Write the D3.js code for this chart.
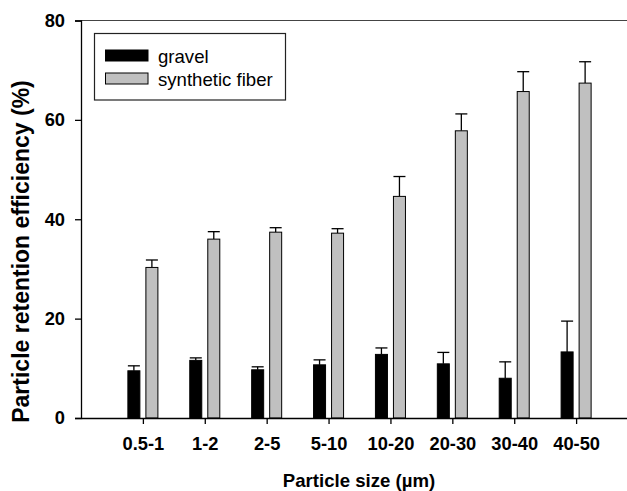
<!DOCTYPE html>
<html>
<head>
<meta charset="utf-8">
<script src="https://cdn.jsdelivr.net/npm/d3@7"></script>
<style>
  html, body { margin: 0; padding: 0; background: #fff; }
  svg { display: block; font-family: "Liberation Sans", Arial, Helvetica, sans-serif; }
</style>
</head>
<body>
<svg id="chart" width="627" height="491"></svg>
<script>
// Particle size classes (µm)
const categories = ["0.5-1", "1-2", "2-5", "5-10", "10-20", "20-30", "30-40", "40-50"];
// Mean retention efficiency (%) and upper error (mean + SD)
const gravel      = [9.5, 11.6, 9.7, 10.7, 12.8, 10.9, 8.0, 13.3];
const gravelErr   = [10.5, 12.1, 10.3, 11.7, 14.1, 13.2, 11.3, 19.5];
const fiber       = [30.3, 36.0, 37.4, 37.2, 44.6, 57.8, 65.7, 67.4];
const fiberErr    = [31.8, 37.5, 38.3, 38.1, 48.6, 61.2, 69.7, 71.7];
const yTicks      = [0, 20, 40, 60, 80];
const seriesNames = ["gravel", "synthetic fiber"];
const seriesFills = ["#000000", "#c0c0c0"];

const svg = d3.select("#chart");

// Category k sits at position k+1 on a 0..9 linear scale
const x = d3.scaleLinear().domain([0, 9]).range([81, 638]);
const y = d3.scaleLinear().domain([0, 80]).range([418, 20.5]);

const bw = 0.194;   // bar width in category units
const gap = 0.097;  // space between the paired bars

const series = [
  { vals: gravel, err: gravelErr, fill: seriesFills[0], off: -gap / 2 - bw },
  { vals: fiber,  err: fiberErr,  fill: seriesFills[1], off: gap / 2 }
];

// Frame: top edge
svg.append("line")
  .attr("x1", x(0)).attr("x2", x(9))
  .attr("y1", y(80)).attr("y2", y(80))
  .attr("stroke", "#444").attr("stroke-width", 1.2);

// Bars and error bars
series.forEach(s => {
  const g = svg.append("g");
  s.vals.forEach((v, i) => {
    const x0 = x(i + 1 + s.off), x1 = x(i + 1 + s.off + bw);
    g.append("line")
      .attr("x1", (x0 + x1) / 2).attr("x2", (x0 + x1) / 2)
      .attr("y1", y(v)).attr("y2", y(s.err[i]))
      .attr("stroke", "#000").attr("stroke-width", 1.3);
    g.append("line")
      .attr("x1", x0).attr("x2", x1)
      .attr("y1", y(s.err[i])).attr("y2", y(s.err[i]))
      .attr("stroke", "#000").attr("stroke-width", 1.3);
    g.append("rect")
      .attr("x", x0).attr("width", x1 - x0)
      .attr("y", y(v)).attr("height", y(0) - y(v))
      .attr("fill", s.fill).attr("stroke", "#000").attr("stroke-width", 1);
  });
});

// Y axis
const yAxis = svg.append("g")
  .attr("transform", `translate(${x(0)},0)`)
  .call(d3.axisLeft(y).tickValues(yTicks).tickSize(6).tickPadding(10).tickFormat(d3.format("d")));
yAxis.select(".domain").attr("stroke", "#000").attr("stroke-width", 1.3);
yAxis.selectAll(".tick line").attr("stroke", "#000").attr("stroke-width", 1.3);
yAxis.selectAll("text").attr("font-size", 18.3).attr("font-weight", "bold")
  .attr("fill", "#000").attr("font-family", "Liberation Sans, Arial, sans-serif");

// X axis
const xAxis = svg.append("g")
  .attr("transform", `translate(0,${y(0)})`)
  .call(d3.axisBottom(x).tickValues(d3.range(1, categories.length + 1))
    .tickSize(6).tickSizeOuter(0).tickPadding(13)
    .tickFormat(d => categories[d - 1]));
xAxis.select(".domain").attr("stroke", "#000").attr("stroke-width", 1.3);
xAxis.selectAll(".tick line").attr("stroke", "#000").attr("stroke-width", 1.3);
xAxis.selectAll("text").attr("font-size", 18.3).attr("font-weight", "bold")
  .attr("fill", "#000").attr("font-family", "Liberation Sans, Arial, sans-serif");

// Axis titles
svg.append("text")
  .attr("x", 359).attr("y", 486.5)
  .attr("text-anchor", "middle")
  .attr("font-size", 18.6).attr("font-weight", "bold")
  .text("Particle size (\u00b5m)");

svg.append("text")
  .attr("transform", "translate(29,251.5) rotate(-90)")
  .attr("text-anchor", "middle")
  .attr("font-size", 23).attr("font-weight", "bold")
  .text("Particle retention efficiency (%)");

// Legend
const legend = svg.append("g");
legend.append("rect")
  .attr("x", 94.5).attr("y", 33.5).attr("width", 191).attr("height", 66.5)
  .attr("fill", "#fff").attr("stroke", "#222").attr("stroke-width", 1.2);
seriesNames.forEach((name, i) => {
  const yy = 50 + i * 23;
  legend.append("rect")
    .attr("x", 105.5).attr("y", yy).attr("width", 42.5).attr("height", 11)
    .attr("fill", seriesFills[i]).attr("stroke", "#000").attr("stroke-width", 1);
  legend.append("text")
    .attr("x", 158).attr("y", yy + 12.5)
    .attr("font-size", 18.6)
    .text(name);
});
</script>
</body>
</html>
